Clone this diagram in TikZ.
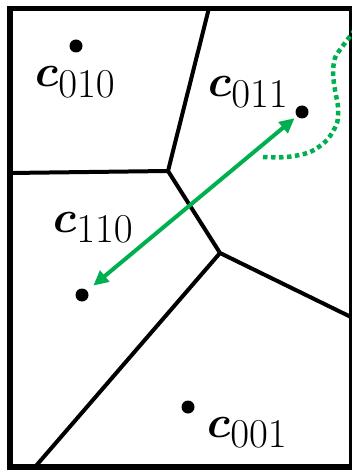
\RequirePackage{fix-cm}
\documentclass[tikz,border=0pt]{standalone}
\usepackage{amsmath,bm}
\usepackage{xcolor}
\usetikzlibrary{arrows.meta}
\definecolor{codegreen}{RGB}{0,176,80}
\colorlet{cellline}{black}
\DeclareMathSizes{45}{45}{41}{30}

\begin{document}
\begin{tikzpicture}[x=1pt,y=-1pt,>={Triangle[length=15pt,width=14pt]},
  centroid/.style={circle,fill=black,inner sep=0pt,minimum size=13pt},
  codeword/.style={inner sep=0pt,anchor=base west,font=\fontsize{45}{54}\selectfont},
  boundary/.style={cellline,line width=4pt,line join=round}]
\useasboundingbox (0,0) rectangle (351,470);
% cell boundaries
\coordinate (top) at (209,8);
\coordinate (left) at (10,173);
\coordinate (right) at (353,318);
\coordinate (bottom) at (35,467);
\coordinate (v1) at (168,171);
\coordinate (v2) at (220,253);
\draw[boundary] (top) -- (v1) -- (v2) -- (right);
\draw[boundary] (left) -- (v1);
\draw[boundary] (v2) -- (bottom);
% frame, cut on the right
\draw[line width=5.5pt] (10,8.5) rectangle (352,467);
% centroids and labels
\node[centroid] (p010) at (76,46) {};
\node[centroid] (p011) at (302,112) {};
\node[centroid] (p110) at (82,295) {};
\node[centroid] (p001) at (188,407) {};
\node[codeword] (l010) at (35,87) {$\bm{c}_{010}$};
\node[codeword] (l011) at (208,97) {$\bm{c}_{011}$};
\node[codeword] (l110) at (53,232) {$\bm{c}_{110}$};
\node[codeword] (l001) at (207,437) {$\bm{c}_{001}$};
% swap between neighbouring cells
\draw[<->,codegreen,line width=4pt,shorten <=8pt,shorten >=3pt] (p110) -- (p011);
\draw[codegreen,line width=4.5pt,dash pattern=on 4.5pt off 3.5pt]
  plot[smooth] coordinates {(263,157) (287,157) (310,152) (327,140) (337,123) (338,107) (335,90) (333,73) (335,58) (342,47) (354,31)};
\end{tikzpicture}
\end{document}
